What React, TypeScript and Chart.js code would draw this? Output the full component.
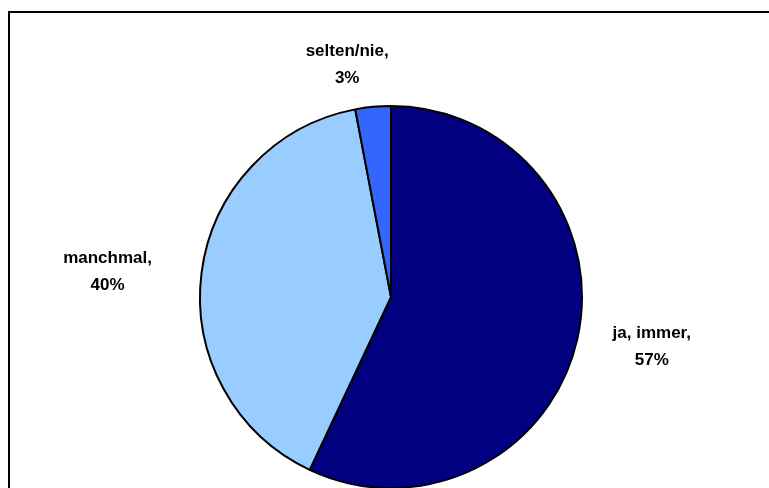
import React, { useEffect, useRef } from "react";
import { Chart, registerables } from "chart.js";

Chart.register(...registerables);

const categories: string[] = ["ja, immer", "manchmal", "selten/nie"];
const values: number[] = [57, 40, 3];
const percentLabels: string[] = ["57%", "40%", "3%"];
const colors: string[] = ["#000080", "#99CCFF", "#3366FF"];
// label placement relative to each slice: angle nudge (deg) and distance factor (x radius)
const labelAngleNudge: number[] = [-1.8, -2.1, -5.3];
const labelDistance: number[] = [1.39, 1.49, 1.235];

const overlayPlugin = {
  id: "overlay",
  afterDraw(chart: any) {
    const ctx = chart.ctx as CanvasRenderingContext2D;
    ctx.save();
    // frame
    ctx.strokeStyle = "#000";
    ctx.lineWidth = 2;
    ctx.beginPath();
    ctx.moveTo(9, 600);
    ctx.lineTo(9, 12);
    ctx.lineTo(900, 12);
    ctx.stroke();

    const meta = chart.getDatasetMeta(0);
    ctx.fillStyle = "#000";
    ctx.font = "bold 17px 'Liberation Sans', Arial, sans-serif";
    ctx.textAlign = "center";
    ctx.textBaseline = "middle";
    meta.data.forEach((arc: any, i: number) => {
      const mid = (arc.startAngle + arc.endAngle) / 2 + (labelAngleNudge[i] * Math.PI) / 180;
      const d = arc.outerRadius * labelDistance[i];
      const cx = arc.x + Math.cos(mid) * d;
      const cy = arc.y + Math.sin(mid) * d;
      ctx.fillText(categories[i] + ",", cx, cy - 13.5);
      ctx.fillText(percentLabels[i], cx, cy + 13.5);
    });
    ctx.restore();
  },
};

export default function App() {
  const ref = useRef<HTMLCanvasElement | null>(null);
  useEffect(() => {
    if (!ref.current) return;
    const chart = new Chart(ref.current, {
      type: "pie",
      data: {
        labels: categories,
        datasets: [
          {
            data: values,
            backgroundColor: colors,
            borderColor: "#000",
            borderWidth: 2,
          },
        ],
      },
      options: {
        responsive: false,
        animation: false,
        devicePixelRatio: 1,
        layout: { padding: { top: 105, bottom: 31, left: 199, right: 186 } },
        plugins: {
          legend: { display: false },
          tooltip: { enabled: false },
          title: { display: false },
        },
      },
      plugins: [overlayPlugin],
    });
    return () => chart.destroy();
  }, []);
  return (
    <div style={{ position: "absolute", left: 0, top: 0, width: 769, height: 520, background: "#fff" }}>
      <canvas ref={ref} width={769} height={520} style={{ display: "block" }} />
    </div>
  );
}
